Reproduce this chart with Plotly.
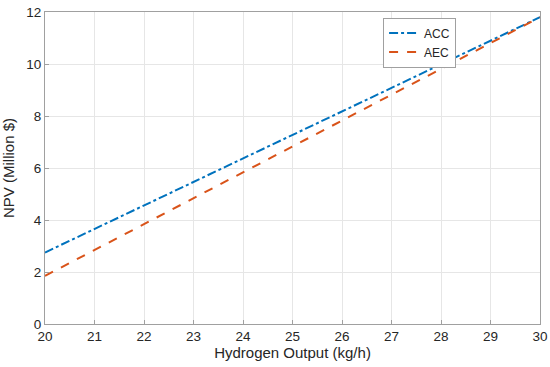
import plotly.graph_objects as go

hydrogen_output = [20, 21, 22, 23, 24, 25, 26, 27, 28, 29, 30]
npv_acc = [2.75, 3.65, 4.56, 5.46, 6.37, 7.27, 8.18, 9.08, 9.99, 10.89, 11.80]
npv_aec = [1.85, 2.85, 3.84, 4.84, 5.83, 6.83, 7.82, 8.82, 9.81, 10.81, 11.80]

fig = go.Figure()
fig.add_trace(go.Scatter(x=hydrogen_output, y=npv_acc, mode="lines", name="ACC",
                         line=dict(color="#0072BD", width=2, dash="dashdot")))
fig.add_trace(go.Scatter(x=hydrogen_output, y=npv_aec, mode="lines", name="AEC",
                         line=dict(color="#D95319", width=2, dash="dash")))

axis_common = dict(showgrid=True, gridcolor="#E6E6E6", gridwidth=1,
                   showline=True, linecolor="#A0A0A0", linewidth=1, mirror=True,
                   ticks="inside", ticklen=4, tickcolor="#A0A0A0", zeroline=False,
                   automargin=False,
                   tickfont=dict(family="Liberation Sans, Arial", size=13.5, color="#262626"))

fig.update_layout(
    width=550, height=367,
    margin=dict(l=45, r=10, t=12, b=43, autoexpand=False),
    paper_bgcolor="white", plot_bgcolor="white",
    font=dict(family="Liberation Sans, Arial", color="#262626"),
    xaxis=dict(range=[20, 30], dtick=1,
               title=dict(text="Hydrogen Output (kg/h)", font=dict(size=15), standoff=2),
               **axis_common),
    yaxis=dict(range=[0, 12], dtick=2,
               title=dict(text="NPV (Million $)", font=dict(size=15), standoff=8),
               **axis_common),
    legend=dict(x=0.683, y=0.982, xanchor="left", yanchor="top",
                bgcolor="white", bordercolor="#A0A0A0", borderwidth=1,
                font=dict(size=12), tracegroupgap=0, itemwidth=30),
    showlegend=True,
)

fig.write_html("out.html",
               config={"displayModeBar": False},
               post_script="document.body.style.margin='0';document.body.style.overflow='hidden';")
